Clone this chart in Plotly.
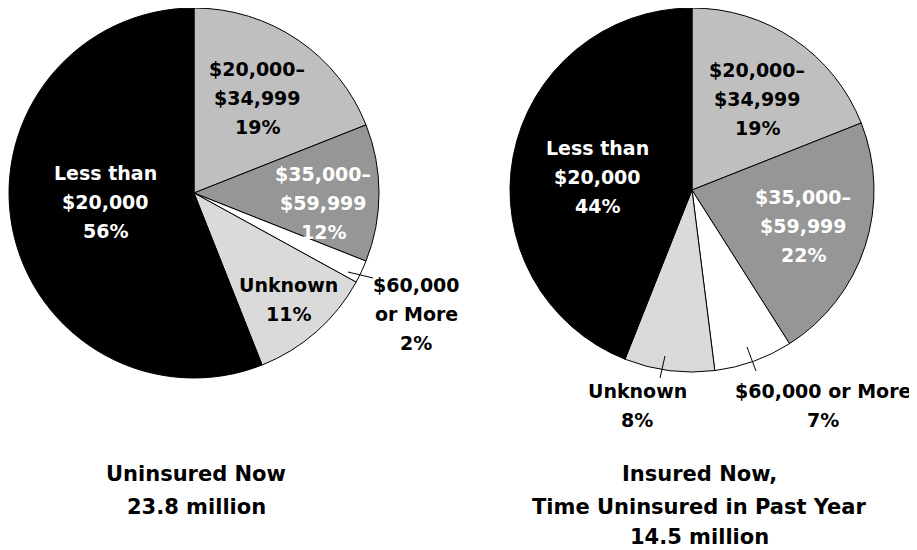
import plotly.graph_objects as go

W, H = 917, 550
PAGE_OFFSET = 8  # default body margin of the written page

categories = ["$20,000–$34,999", "$35,000–$59,999", "$60,000 or More", "Unknown", "Less than $20,000"]
uninsured_now = [19, 12, 2, 11, 56]
insured_now = [19, 22, 7, 8, 44]
slice_colors = ["#bfbfbf", "#969696", "#ffffff", "#dadada", "#000000"]

# label lines per chart, as printed
left_labels = [["$20,000–", "$34,999"], ["$35,000–", "$59,999"], ["$60,000", "or More"],
               ["Unknown"], ["Less than", "$20,000"]]
right_labels = [["$20,000–", "$34,999"], ["$35,000–", "$59,999"], ["$60,000 or More"],
                ["Unknown"], ["Less than", "$20,000"]]
titles = [["Uninsured Now", "23.8 million"],
          ["Insured Now,", "Time Uninsured in Past Year", "14.5 million"]]

FONT = "DejaVu Sans"
LABEL_SIZE = 19
TITLE_SIZE = 21


def px_x(x):
    return min(max((x - PAGE_OFFSET) / W, 0), 1)


def px_y(y):
    return min(max(1 - (y - PAGE_OFFSET) / H, 0), 1)


def domain(cx, cy, r):
    return dict(x=[px_x(cx - r), px_x(cx + r)], y=[px_y(cy + r), px_y(cy - r)])


fig = go.Figure()
fig.add_trace(go.Pie(labels=categories, values=uninsured_now, sort=False, direction="clockwise",
                     rotation=0, marker=dict(colors=slice_colors, line=dict(color="black", width=1)),
                     textinfo="none", hoverinfo="label+percent", domain=domain(194, 192, 186)))
fig.add_trace(go.Pie(labels=categories, values=insured_now, sort=False, direction="clockwise",
                     rotation=0, marker=dict(colors=slice_colors, line=dict(color="black", width=1)),
                     textinfo="none", hoverinfo="label+percent", domain=domain(692, 190, 182)))

annotations = []


def add_lines(lines, x, ys, size, color):
    for line, y in zip(lines, ys):
        annotations.append(dict(x=px_x(x), y=px_y(y), xref="paper", yref="paper",
                                xanchor="center", yanchor="middle", showarrow=False, text=line,
                                font=dict(family=FONT, size=size, color=color, weight="bold")))


# label placement (pixels): centre x, first line y, text colour
left_pos = [(257, 69, "black"), (323, 174, "white"), (416, 285, "black"), (288, 285, "black"), (105, 173, "white")]
right_pos = [(757, 70, "black"), (803, 197, "white"), (823, 391, "black"), (637, 391, "black"), (597, 148, "white")]

for labels, vals, pos in [(left_labels, uninsured_now, left_pos), (right_labels, insured_now, right_pos)]:
    for lab, v, (x, y, c) in zip(labels, vals, pos):
        lines = lab + [f"{v}%"]
        add_lines(lines, x, [y + 29 * i for i in range(len(lines))], LABEL_SIZE, c)

add_lines(titles[0], 196, [474, 507], TITLE_SIZE, "black")
add_lines(titles[1], 699, [474, 507, 537], TITLE_SIZE, "black")

# leader lines for the small slices
leaders = [(348, 272, 373, 278), (665, 356, 660, 378), (747, 347, 756, 371)]
shapes = [dict(type="line", xref="paper", yref="paper", x0=px_x(a), y0=px_y(b), x1=px_x(c), y1=px_y(d),
               line=dict(color="black", width=1)) for a, b, c, d in leaders]

fig.update_layout(width=W, height=H, margin=dict(l=0, r=0, t=0, b=0), showlegend=False,
                  paper_bgcolor="white", plot_bgcolor="white",
                  annotations=annotations, shapes=shapes)

fig.write_html("out.html")
